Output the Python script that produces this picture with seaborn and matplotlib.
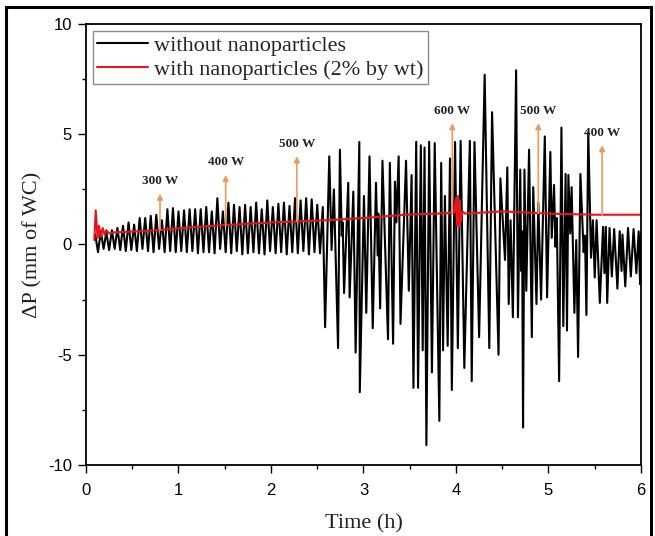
import numpy as np
import pandas as pd
import matplotlib
matplotlib.use("Agg")
import matplotlib.pyplot as plt
import seaborn as sns
from matplotlib.patches import Rectangle
from matplotlib.ticker import MultipleLocator

# pressure drop without nanoparticles
time_without = [
    0.10, 0.13, 0.16, 0.19, 0.22, 0.25, 0.28, 0.31, 0.34, 0.37,
    0.40, 0.43, 0.46, 0.49, 0.52, 0.55, 0.58, 0.61, 0.64, 0.67,
    0.70, 0.73, 0.76, 0.79, 0.82, 0.85, 0.88, 0.91, 0.94, 0.97,
    1.00, 1.03, 1.06, 1.09, 1.12, 1.15, 1.18, 1.21, 1.24, 1.27,
    1.30, 1.33, 1.36, 1.39, 1.42, 1.45, 1.48, 1.51, 1.54, 1.57,
    1.60, 1.63, 1.66, 1.69, 1.72, 1.75, 1.78, 1.81, 1.84, 1.87,
    1.90, 1.93, 1.96, 1.99, 2.02, 2.05, 2.08, 2.11, 2.14, 2.17,
    2.20, 2.23, 2.26, 2.29, 2.32, 2.35, 2.38, 2.41, 2.44, 2.47,
    2.50, 2.53, 2.56,
    2.585, 2.63, 2.655, 2.68, 2.725, 2.745, 2.765, 2.775, 2.79, 2.835,
    2.85, 2.89, 2.915, 2.955, 2.96, 3.005, 3.03, 3.065, 3.10, 3.135,
    3.155, 3.16, 3.18, 3.205, 3.265, 3.285, 3.32, 3.34, 3.355, 3.38,
    3.40, 3.46, 3.49, 3.52, 3.54, 3.57, 3.59, 3.62, 3.64, 3.66,
    3.68, 3.71, 3.74, 3.77, 3.82, 3.84, 3.86, 3.88, 3.91, 3.935,
    3.955, 3.99, 4.02, 4.05, 4.09, 4.15, 4.17, 4.20, 4.25, 4.31,
    4.36, 4.39, 4.46, 4.48, 4.53, 4.555, 4.57, 4.59, 4.615, 4.65,
    4.67, 4.695, 4.705, 4.715, 4.725, 4.74, 4.76, 4.79, 4.82, 4.835,
    4.87, 4.89, 4.92, 4.96, 4.985, 5.02, 5.035, 5.06, 5.075, 5.09,
    5.115, 5.14, 5.16, 5.185, 5.20, 5.215, 5.235, 5.25, 5.28, 5.30,
    5.32, 5.345, 5.38, 5.395, 5.41, 5.43, 5.46, 5.48, 5.50, 5.52,
    5.555, 5.59, 5.605, 5.62, 5.635, 5.66, 5.685, 5.71, 5.745, 5.77,
    5.79, 5.80, 5.83, 5.86, 5.89, 5.92, 5.95, 5.975, 5.99, 6.00,
]
dp_without = [
    0.45, -0.35, 0.60, -0.20, 0.55, -0.25, 0.65, -0.20, 0.75, -0.25,
    0.85, -0.30, 1.00, -0.25, 0.90, -0.30, 1.20, -0.20, 1.20, -0.30,
    1.30, -0.35, 1.35, -0.20, 1.10, -0.35, 1.60, -0.30, 1.65, -0.35,
    1.50, -0.30, 1.55, -0.35, 1.60, -0.30, 1.60, -0.40, 1.60, -0.35,
    1.70, -0.35, 1.50, -0.40, 2.10, -0.20, 1.50, -0.35, 1.90, -0.40,
    1.80, -0.30, 1.70, -0.45, 1.80, -0.40, 1.70, -0.35, 1.90, -0.40,
    1.60, -0.45, 2.00, -0.30, 1.70, -0.40, 1.85, -0.35, 1.90, -0.45,
    1.75, -0.35, 2.10, -0.40, 2.00, -0.30, 2.10, -0.45, 2.05, -0.35,
    1.80, -0.40, 1.70,
    -3.75, 4.0, -0.25, 2.5, -4.7, 4.3, 0.4, 1.0, -2.2, 2.8,
    -2.4, 2.4, -4.9, 4.65, -6.7, 2.2, -3.1, 4.0, -3.8, 2.8,
    -0.5, 1.4, -2.9, 3.8, -4.3, 3.7, -4.5, 2.85, 1.0, 4.0,
    -3.6, 3.8, -2.1, 3.15, -6.5, 4.66, -6.5, 4.5, -4.8, 4.4,
    -9.1, 4.66, -5.8, 4.6, -8.0, 3.7, -4.8, 2.2, -4.6, 3.9,
    -6.6, 4.65, -4.7, 4.7, -5.6, 4.7, -6.2, 4.65, -4.2, 7.7,
    -4.7, 6.0, -5.0, 3.0, -0.7, 3.5, -2.7, 1.1, -3.3, 7.9,
    -3.3, 3.4, -1.2, 0.6, -8.3, 3.4, -2.1, 4.3, -4.2, 2.6,
    -2.7, 1.9, -2.5, 4.9, -2.4, 4.2, 0.3, 2.7, -0.1, 1.2,
    -6.2, 5.3, -3.7, 3.2, -3.9, 3.15, 0.5, 2.6, -3.1, 0.2,
    -5.1, 3.2, -0.35, 0.4, -3.2, 5.1, -0.6, 1.1, -1.5, 1.1,
    -2.65, 0.8, -1.3, 0.8, -2.65, 0.75, -1.45, 0.7, -2.0, 0.6,
    -1.2, 0.45, -1.9, 0.75, -1.45, 0.7, -1.3, 0.6, -1.8, 0.5,
]

# pressure drop with nanoparticles
time_with = [0.09, 0.105, 0.125, 0.14, 0.16, 0.18, 0.20, 0.22, 0.25, 0.30,
             0.60, 0.80, 1.20, 1.50, 2.00, 2.60, 3.00, 3.45, 3.90, 3.98,
             4.00, 4.01, 4.02, 4.03, 4.04, 4.05, 4.07, 4.10, 4.50, 5.00,
             5.50, 6.00]
dp_with = [0.2, 1.55, 0.3, 0.85, 0.35, 0.75, 0.45, 0.65, 0.5, 0.55,
           0.6, 0.66, 0.8, 0.88, 1.0, 1.1, 1.2, 1.35, 1.42, 1.45,
           2.1, 0.9, 2.2, 0.8, 2.0, 1.0, 1.5, 1.4, 1.5, 1.4,
           1.35, 1.35]

# heater power steps
power_labels = ["300 W", "400 W", "500 W", "600 W", "500 W", "400 W"]
power_times = [0.80, 1.51, 2.28, 3.96, 4.89, 5.58]
arrow_tips = [2.3, 3.15, 4.0, 5.5, 5.5, 4.5]

df_without = pd.DataFrame({"time": time_without, "dp": dp_without})
df_with = pd.DataFrame({"time": time_with, "dp": dp_with})

sns.set_theme(style="ticks")
plt.rcParams["font.family"] = ["Liberation Sans", "DejaVu Sans"]
plt.rcParams["axes.unicode_minus"] = False

fig = plt.figure(figsize=(6.55, 5.36), dpi=100)
ax = fig.add_axes([0.1313, 0.1325, 0.8473, 0.8227])

sns.lineplot(data=df_without, x="time", y="dp", color="black", lw=1.5,
             estimator=None, sort=False, label="without nanoparticles", ax=ax)
sns.lineplot(data=df_with, x="time", y="dp", color="#e8141c", lw=1.5,
             estimator=None, sort=False, label="with nanoparticles (2% by wt)", ax=ax)

serif = "Liberation Serif"
for t, tip, lab in zip(power_times, arrow_tips, power_labels):
    base = np.interp(t, time_with, dp_with)
    ax.annotate("", xy=(t, tip), xytext=(t, base),
                arrowprops=dict(arrowstyle="-|>", color="#ec9a5c", lw=1.2,
                                mutation_scale=8, shrinkA=0, shrinkB=0))
    ax.text(t, tip + 0.3, lab, ha="center", va="bottom", fontsize=9.5,
            fontweight="bold", family=serif, color="#222222")

ax.set_xlim(0, 6)
ax.set_ylim(-10, 10)
ax.set_xticks(range(0, 7))
ax.set_yticks([-10, -5, 0, 5, 10])
ax.xaxis.set_minor_locator(MultipleLocator(0.5))
ax.yaxis.set_minor_locator(MultipleLocator(2.5))
ax.tick_params(which="major", direction="out", length=6, width=1,
               labelsize=12, colors="black", pad=4)
ax.tick_params(axis="x", which="major", pad=7)
ax.tick_params(which="minor", direction="out", length=3, width=1, colors="black")
for s in ax.spines.values():
    s.set_visible(True)
    s.set_linewidth(1.3)
    s.set_color("black")

ax.set_xlabel("Time (h)", family=serif, fontsize=16, color="#222222", labelpad=12)
ax.set_ylabel("ΔP (mm of WC)", family=serif, fontsize=16, color="#222222")

ax.legend(loc="upper left", prop={"family": serif, "size": 16}, frameon=True,
          fancybox=False, edgecolor="#8c8c8c", framealpha=1, borderpad=0.2,
          labelspacing=0.15, handlelength=2.3, handletextpad=0.25,
          borderaxespad=0.3)

# black frame around the whole picture
fig.patches.append(Rectangle((0.009, -0.05), 0.985, 1.037, transform=fig.transFigure,
                             fill=False, lw=2.2, edgecolor="black"))

fig.savefig("out.png", dpi=100)
